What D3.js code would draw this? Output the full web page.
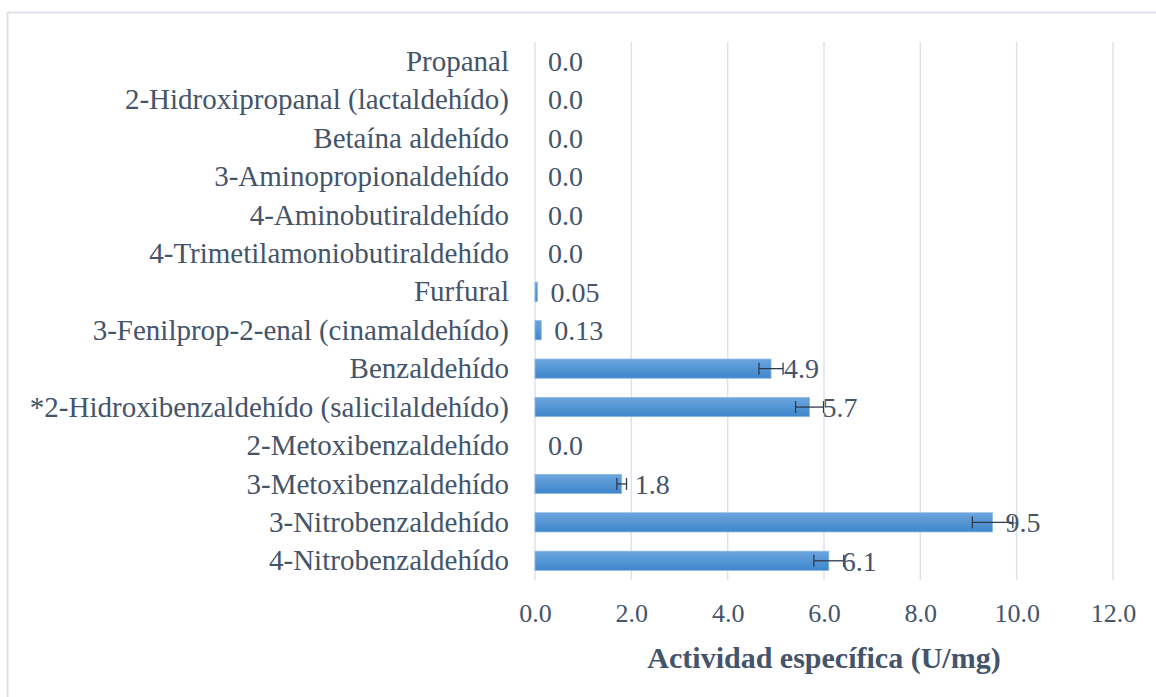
<!DOCTYPE html>
<meta charset="UTF-8"/>
<style>
  body { margin: 0; background: #fff; }
  text { font-family: 'Liberation Serif', 'Times New Roman', serif; fill: #44546A; }
</style>
<svg width="1156" height="697"></svg>
<script src="https://d3js.org/d3.v7.min.js"></script>
<script>
var categories = [
  "Propanal",
  "2-Hidroxipropanal (lactaldehído)",
  "Betaína aldehído",
  "3-Aminopropionaldehído",
  "4-Aminobutiraldehído",
  "4-Trimetilamoniobutiraldehído",
  "Furfural",
  "3-Fenilprop-2-enal (cinamaldehído)",
  "Benzaldehído",
  "*2-Hidroxibenzaldehído (salicilaldehído)",
  "2-Metoxibenzaldehído",
  "3-Metoxibenzaldehído",
  "3-Nitrobenzaldehído",
  "4-Nitrobenzaldehído"
];
var values = [0, 0, 0, 0, 0, 0, 0.05, 0.13, 4.9, 5.7, 0, 1.8, 9.5, 6.1];
var labels = ["0.0", "0.0", "0.0", "0.0", "0.0", "0.0", "0.05", "0.13", "4.9", "5.7", "0.0", "1.8", "9.5", "6.1"];
var errors = [0, 0, 0, 0, 0, 0, 0, 0, 0.25, 0.29, 0, 0.1, 0.42, 0.31];
var xTicks = [0, 2, 4, 6, 8, 10, 12];

var svg = d3.select("svg");

// outer frame
svg.append("rect")
    .attr("x", 7.5).attr("y", 12.5)
    .attr("width", 1160).attr("height", 700)
    .attr("fill", "none")
    .attr("stroke", "#DDE2EA")
    .attr("stroke-width", 2);

var plotLeft = 535, plotRight = 1113, plotTop = 42, plotBottom = 580;

var x = d3.scaleLinear().domain([0, 12]).range([plotLeft, plotRight]);
var y = d3.scaleBand().domain(categories).range([plotTop, plotBottom]).paddingInner(0.5).paddingOuter(0.25);

var defs = svg.append("defs");
var grad = defs.append("linearGradient").attr("id", "barg")
    .attr("x1", 0).attr("y1", 0).attr("x2", 0).attr("y2", 1);
grad.append("stop").attr("offset", "0%").attr("stop-color", "#6BA5DD");
grad.append("stop").attr("offset", "100%").attr("stop-color", "#3F86CB");

// gridlines
svg.append("g")
    .selectAll("line")
    .data(xTicks)
    .join("line")
    .attr("x1", d => x(d)).attr("x2", d => x(d))
    .attr("y1", plotTop).attr("y2", plotBottom)
    .attr("stroke", "#DCE3EC")
    .attr("stroke-width", 1.5);

// x axis tick labels
var xAxis = svg.append("g")
    .attr("transform", "translate(0," + (plotBottom + 33) + ")")
    .call(d3.axisBottom(x).tickValues(xTicks).tickFormat(d3.format(".1f")).tickSize(0).tickPadding(0));
xAxis.select(".domain").remove();
xAxis.selectAll("text")
    .attr("font-size", "26px")
    .attr("dy", "0.35em")
    .style("font-family", "'Liberation Serif', serif")
    .attr("fill", "#44546A");

// category labels
var yAxis = svg.append("g")
    .attr("transform", "translate(" + (plotLeft - 26) + ",0)")
    .call(d3.axisLeft(y).tickSize(0).tickPadding(0));
yAxis.select(".domain").remove();
yAxis.selectAll("text")
    .attr("font-size", "29px")
    .attr("dy", "0.33em")
    .style("font-family", "'Liberation Serif', serif")
    .attr("fill", "#44546A");

// bars
svg.append("g")
    .selectAll("rect")
    .data(values)
    .join("rect")
    .attr("x", x(0))
    .attr("y", (d, i) => y(categories[i]))
    .attr("width", d => x(d) - x(0))
    .attr("height", y.bandwidth())
    .attr("fill", "url(#barg)")
    .attr("stroke", d => d > 0 ? "#8DBAE6" : "none")
    .attr("stroke-width", 0.8);

// error bars
var eb = svg.append("g")
    .selectAll("g")
    .data(values.map((v, i) => ({v: v, e: errors[i], c: categories[i]})).filter(d => d.e > 0))
    .join("g")
    .attr("stroke", "#2F3B4C")
    .attr("stroke-width", 1.3);
eb.append("line")
    .attr("x1", d => x(d.v - d.e)).attr("x2", d => x(d.v + d.e))
    .attr("y1", d => y(d.c) + y.bandwidth() / 2).attr("y2", d => y(d.c) + y.bandwidth() / 2);
eb.append("line")
    .attr("x1", d => x(d.v - d.e)).attr("x2", d => x(d.v - d.e))
    .attr("y1", d => y(d.c) + y.bandwidth() / 2 - 6).attr("y2", d => y(d.c) + y.bandwidth() / 2 + 6);
eb.append("line")
    .attr("x1", d => x(d.v + d.e)).attr("x2", d => x(d.v + d.e))
    .attr("y1", d => y(d.c) + y.bandwidth() / 2 - 6).attr("y2", d => y(d.c) + y.bandwidth() / 2 + 6);

// value labels
svg.append("g")
    .selectAll("text")
    .data(values)
    .join("text")
    .attr("x", d => x(d) + 13)
    .attr("y", (d, i) => y(categories[i]) + y.bandwidth() / 2)
    .attr("dy", "0.35em")
    .attr("font-size", "28px")
    .text((d, i) => labels[i]);

// axis title
svg.append("text")
    .attr("x", (plotLeft + plotRight) / 2)
    .attr("y", 668)
    .attr("text-anchor", "middle")
    .attr("font-size", "30px")
    .attr("font-weight", "bold")
    .text("Actividad específica (U/mg)");
</script>
